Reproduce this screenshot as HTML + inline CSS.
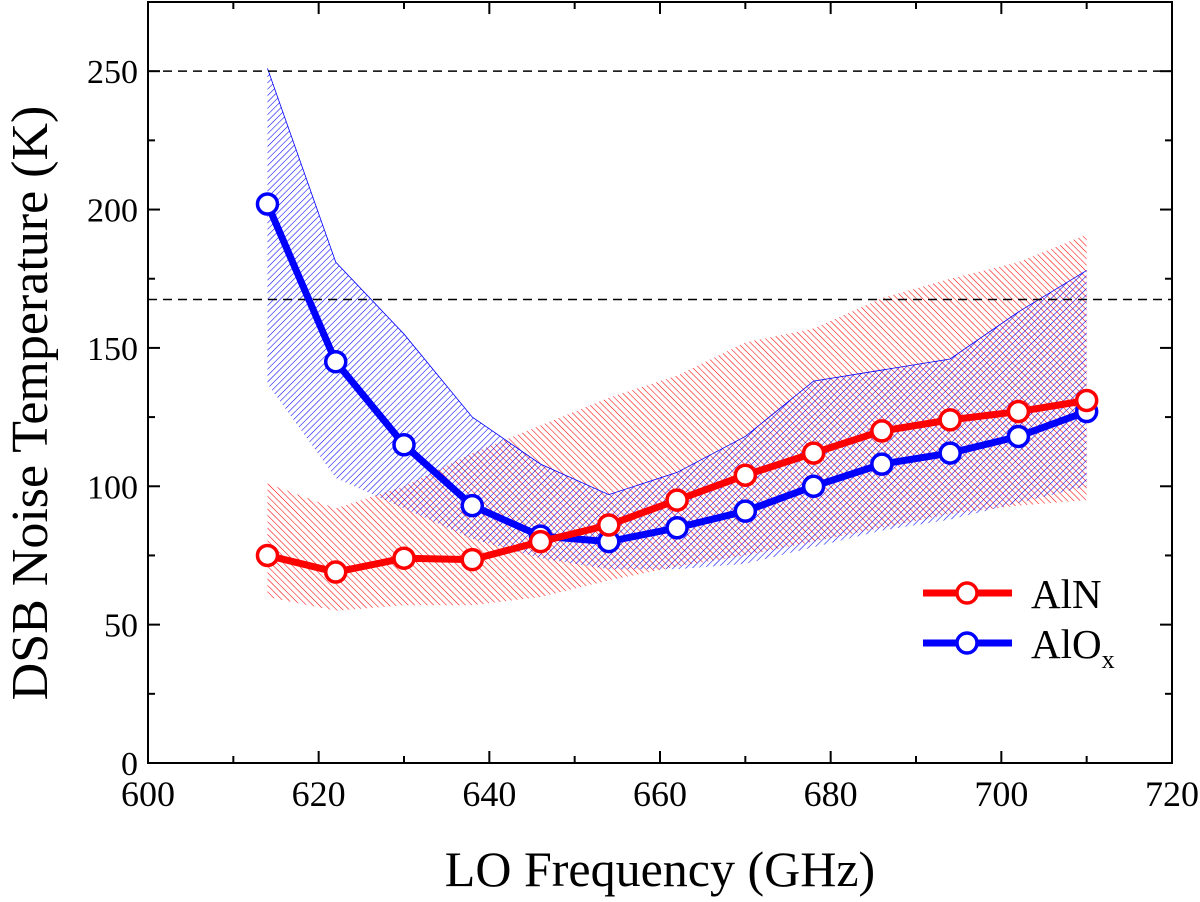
<!DOCTYPE html>
<html><head><meta charset="utf-8"><style>body{margin:0;background:#fff}svg{display:block}text{font-family:"Liberation Serif",serif}</style></head>
<body>
<svg id="chart" width="1200" height="902" viewBox="0 0 1200 902" xmlns="http://www.w3.org/2000/svg">
<defs>
<pattern id="hatchRed" patternUnits="userSpaceOnUse" width="4.5" height="4.5" patternTransform="rotate(-45)"><line x1="0" y1="0" x2="0" y2="4.5" stroke="#f00" stroke-width="1.1"/></pattern>
<pattern id="hatchBlue" patternUnits="userSpaceOnUse" width="4.5" height="4.5" patternTransform="rotate(45)"><line x1="0" y1="0" x2="0" y2="4.5" stroke="#00f" stroke-width="1.1"/></pattern>
</defs>
<g id="bands"></g>
<g id="grid"></g>
<g id="series"></g>
<g id="axes"></g>
</svg>
<script>
const freqs=[614,622,630,638,646,654,662,670,678,686,694,702,710];
const alnValues=[75,69,74,73.5,80,86,95,104,112,120,124,127,131];
const aloxValues=[202,145,115,93,82,80,85,91,100,108,112,118,127];
const alnUpper=[101,92,100,112,122,132,140,152,157,168,175,181,191];
const alnLower=[60,55,57,57,60,66,71,75,80,85,90,93,95];
const aloxUpper=[251,181,155,125,108,97,105,118,138,142,146,163,178];
const aloxLower=[137,103,92,81,74,70,70,72,78,84,88,94,100];
const xTicks=[600,620,640,660,680,700,720];
const yTicks=[0,50,100,150,200,250];
const refLines=[250,167.5];
const X0=148,X1=1172,Y0=763,YT=2;
const xs=v=>X0+(v-600)*(X1-X0)/120;
const ys=v=>Y0-v*(Y0-YT)/275;
const NS="http://www.w3.org/2000/svg";
function mk(tag,attrs,parent){const e=document.createElementNS(NS,tag);for(const k in attrs)e.setAttribute(k,attrs[k]);parent.appendChild(e);return e;}
const bands=document.getElementById('bands'),grid=document.getElementById('grid'),series=document.getElementById('series'),axes=document.getElementById('axes');
function band(up,lo,fill,edge,name){
  let d=freqs.map((f,i)=>(i?'L':'M')+xs(f)+','+ys(up[i])).join('');
  for(let i=freqs.length-1;i>=0;i--)d+='L'+xs(freqs[i])+','+ys(lo[i]);
  const p=mk('path',{d:d+'Z',fill:fill},bands);
  
  
  if(edge){let e=freqs.map((f,i)=>(i?'L':'M')+xs(f)+','+ys(up[i])).join('');
  mk('path',{d:e,fill:'none',stroke:edge,'stroke-width':0.8},bands);}
}
band(alnUpper,alnLower,'url(#hatchRed)',null,'aln-range-band');
band(aloxUpper,aloxLower,'url(#hatchBlue)','#00f','alox-range-band');
refLines.forEach(v=>{const l=mk('line',{x1:X0,x2:X1,y1:ys(v),y2:ys(v),stroke:'#000','stroke-width':1.5,'stroke-dasharray':'9,6'},grid);

});
function line(vals,color,name){
  const g=mk('g',{},series);
  
  
  mk('polyline',{points:freqs.map((f,i)=>xs(f)+','+ys(vals[i])).join(' '),fill:'none',stroke:color,'stroke-width':7,'stroke-linejoin':'round'},g);
  freqs.forEach((f,i)=>{const c=mk('circle',{cx:xs(f),cy:ys(vals[i]),r:10,fill:'#fff',stroke:color,'stroke-width':3.5},g);
  
  });
}
line(aloxValues,'#00f','alox-series');
line(alnValues,'#f00','aln-series');
const fr=mk('rect',{x:X0,y:YT,width:X1-X0,height:Y0-YT,fill:'none',stroke:'#000','stroke-width':2},axes);


for(let v=600;v<=720;v+=10){const maj=v%20===0,L=maj?12:7,x=xs(v);
  mk('line',{x1:x,x2:x,y1:Y0,y2:Y0-L,stroke:'#000','stroke-width':2},axes);
  mk('line',{x1:x,x2:x,y1:YT,y2:YT+L,stroke:'#000','stroke-width':2},axes);}
xTicks.forEach(v=>{const t=mk('text',{x:xs(v),y:Y0+43,'font-size':36,'text-anchor':'middle'},axes);t.textContent=v;

});
for(let v=0;v<=275;v+=25){const maj=v%50===0,L=maj?12:7,y=ys(v);
  mk('line',{x1:X0,x2:X0+L,y1:y,y2:y,stroke:'#000','stroke-width':2},axes);
  mk('line',{x1:X1,x2:X1-L,y1:y,y2:y,stroke:'#000','stroke-width':2},axes);}
yTicks.forEach(v=>{const t=mk('text',{x:X0-10,y:ys(v)+12,'font-size':34,'text-anchor':'end'},axes);t.textContent=v;

});
const xt=mk('text',{x:660,y:886,'font-size':50,'text-anchor':'middle'},axes);xt.textContent='LO Frequency (GHz)';


const yt=mk('text',{x:0,y:0,'font-size':52,'text-anchor':'middle',transform:'translate(47,403) rotate(-90)'},axes);yt.textContent='DSB Noise Temperature (K)';


function leg(y,color,label,sub,name){const g=mk('g',{},axes);
  
  
  mk('line',{x1:923,x2:1012,y1:y,y2:y,stroke:color,'stroke-width':7},g);
  mk('circle',{cx:967,cy:y,r:10,fill:'#fff',stroke:color,'stroke-width':3.5},g);
  const t=mk('text',{x:1031,y:y+15,'font-size':41},g);t.textContent=label;
  if(sub){const s=mk('tspan',{'font-size':26,dy:10},t);s.textContent=sub;}
}
leg(593,'#f00','AlN','','legend-entry-aln');
leg(643,'#00f','AlO','x','legend-entry-alox');
</script>
</body></html>
